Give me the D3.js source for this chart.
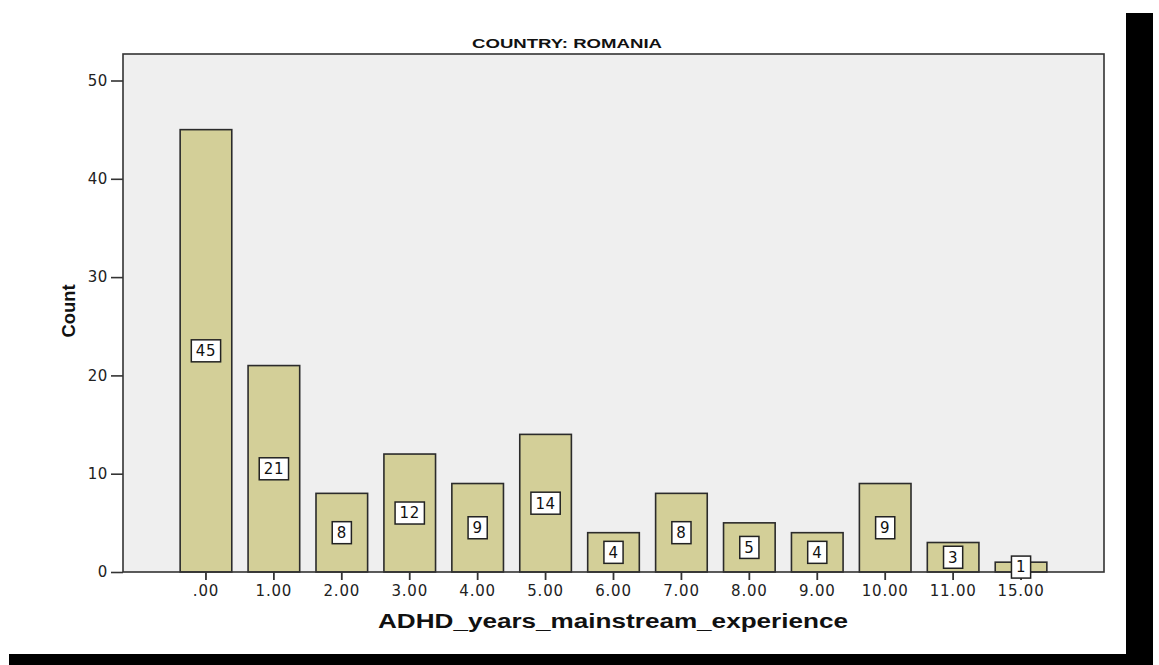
<!DOCTYPE html>
<html>
<head>
<meta charset="utf-8">
<script src="https://cdn.jsdelivr.net/npm/d3@7"></script>
<style>
  html, body { margin: 0; padding: 0; background: #ffffff; }
  svg { display: block; }
</style>
</head>
<body>
<svg id="chart" width="1159" height="665"></svg>
<script>
const categories = [".00", "1.00", "2.00", "3.00", "4.00", "5.00", "6.00", "7.00", "8.00", "9.00", "10.00", "11.00", "15.00"];
const counts = [45, 21, 8, 12, 9, 14, 4, 8, 5, 4, 9, 3, 1];
const yTicks = [0, 10, 20, 30, 40, 50];
const chartTitle = "COUNTRY: ROMANIA";
const xTitle = "ADHD_years_mainstream_experience";
const yTitle = "Count";

const svg = d3.select("#chart");

// Layout
const plotLeft = 123, plotRight = 1104, plotTop = 54, plotBottom = 572;

const x = d3.scaleBand()
  .domain(categories)
  .range([172, 1055])
  .paddingInner(0.24)
  .paddingOuter(0.12);

const y = d3.scaleLinear()
  .domain([0, 50])
  .range([plotBottom, 80.5]);

// Decorative black borders (right and bottom)
svg.append("rect").attr("x", 1126).attr("y", 13).attr("width", 27).attr("height", 652).attr("fill", "#000");
svg.append("rect").attr("x", 9).attr("y", 654).attr("width", 1144).attr("height", 11).attr("fill", "#000");

// Plot background
svg.append("rect")
  .attr("x", plotLeft).attr("y", plotTop)
  .attr("width", plotRight - plotLeft).attr("height", plotBottom - plotTop)
  .attr("fill", "#efefef");

// Bars
svg.append("g").selectAll("rect")
  .data(counts)
  .join("rect")
  .attr("x", (d, i) => x(categories[i]))
  .attr("y", d => y(d))
  .attr("width", x.bandwidth())
  .attr("height", d => y(0) - y(d))
  .attr("fill", "#d3cf98")
  .attr("stroke", "#2b2b2b")
  .attr("stroke-width", 1.6);

// Frame (left, top, right, bottom)
svg.append("rect")
  .attr("x", plotLeft).attr("y", plotTop)
  .attr("width", plotRight - plotLeft).attr("height", plotBottom - plotTop)
  .attr("fill", "none")
  .attr("stroke", "#333")
  .attr("stroke-width", 1.6);

// Y axis
const yAxis = d3.axisLeft(y).tickValues(yTicks).tickSize(12).tickPadding(3).tickFormat(d3.format("d"));
const yg = svg.append("g").attr("transform", `translate(${plotLeft},0)`).call(yAxis);
yg.select(".domain").remove();
yg.selectAll(".tick line").attr("stroke", "#333").attr("stroke-width", 1.6);
yg.selectAll(".tick text")
  .attr("font-family", "DejaVu Sans, sans-serif")
  .attr("font-size", 15)
  .attr("letter-spacing", "0.6px")
  .attr("fill", "#222");

// X axis
const xAxis = d3.axisBottom(x).tickSize(8).tickPadding(5);
const xg = svg.append("g").attr("transform", `translate(0,${plotBottom})`).call(xAxis);
xg.select(".domain").remove();
xg.selectAll(".tick line").attr("stroke", "#333").attr("stroke-width", 1.8);
xg.selectAll(".tick text")
  .attr("font-family", "DejaVu Sans, sans-serif")
  .attr("font-size", 15)
  .attr("letter-spacing", "0.8px")
  .attr("fill", "#222");

// Value labels (white boxes)
const labels = svg.append("g").selectAll("g")
  .data(counts)
  .join("g")
  .attr("transform", (d, i) => `translate(${x(categories[i]) + x.bandwidth() / 2},${y(d / 2)})`);

labels.each(function(d) {
  const g = d3.select(this);
  const t = g.append("text")
    .text(d)
    .attr("text-anchor", "middle")
    .attr("dy", "0.36em")
    .attr("font-family", "DejaVu Sans, sans-serif")
    .attr("font-size", 15)
    .attr("letter-spacing", "0.6px")
    .attr("fill", "#111");
  const bb = t.node().getBBox();
  const w = bb.width + 9, h = 22;
  g.insert("rect", "text")
    .attr("x", -w / 2).attr("y", -h / 2)
    .attr("width", w).attr("height", h)
    .attr("fill", "#fff")
    .attr("stroke", "#222")
    .attr("stroke-width", 1.5);
});

// Titles
svg.append("text")
  .attr("x", 567).attr("y", 48)
  .attr("text-anchor", "middle")
  .attr("font-family", "Liberation Sans, Arial, sans-serif")
  .attr("font-weight", "bold")
  .attr("font-size", 13.5)
  .attr("textLength", 190)
  .attr("lengthAdjust", "spacingAndGlyphs")
  .attr("fill", "#111")
  .text(chartTitle);

svg.append("text")
  .attr("x", 613).attr("y", 628)
  .attr("text-anchor", "middle")
  .attr("font-family", "Liberation Sans, Arial, sans-serif")
  .attr("font-weight", "bold")
  .attr("font-size", 20)
  .attr("textLength", 470)
  .attr("lengthAdjust", "spacingAndGlyphs")
  .attr("fill", "#111")
  .text(xTitle);

svg.append("text")
  .attr("transform", "translate(75,311) rotate(-90)")
  .attr("text-anchor", "middle")
  .attr("font-family", "Liberation Sans, Arial, sans-serif")
  .attr("font-weight", "bold")
  .attr("font-size", 19)
  .attr("textLength", 53)
  .attr("lengthAdjust", "spacingAndGlyphs")
  .attr("fill", "#111")
  .text(yTitle);
</script>
</body>
</html>
